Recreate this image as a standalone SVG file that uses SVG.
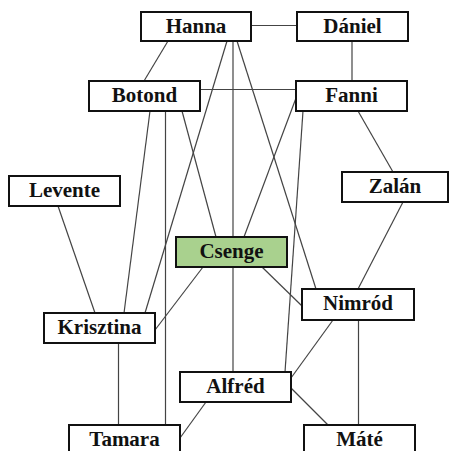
<svg xmlns="http://www.w3.org/2000/svg" width="449" height="451" viewBox="0 0 449 451">
<style>
.e{stroke:#444;stroke-width:1.2;fill:none}
.n rect{fill:#fff;stroke:#111;stroke-width:2}
.n.h rect{fill:#a9d18e}
text{font-family:"Liberation Serif","Times New Roman","DejaVu Serif",serif;font-weight:700;font-size:21px;fill:#111;text-anchor:middle}
</style>
<rect width="449" height="451" fill="#fff"/>
<g id="connectors">
<line class="e" x1="251" y1="25.5" x2="297" y2="25.5"/>
<line class="e" x1="168" y1="41" x2="144" y2="81"/>
<line class="e" x1="227" y1="41" x2="145" y2="313"/>
<line class="e" x1="233" y1="41" x2="233" y2="372"/>
<line class="e" x1="237" y1="41" x2="316" y2="289"/>
<line class="e" x1="352" y1="41" x2="352" y2="81"/>
<line class="e" x1="200" y1="89.5" x2="296" y2="89.5"/>
<line class="e" x1="150" y1="111" x2="124" y2="313"/>
<line class="e" x1="165.5" y1="111" x2="165.5" y2="425"/>
<line class="e" x1="182" y1="111" x2="216" y2="237"/>
<line class="e" x1="296" y1="98" x2="244" y2="237"/>
<line class="e" x1="303" y1="111" x2="285" y2="372"/>
<line class="e" x1="358" y1="111" x2="393" y2="172"/>
<line class="e" x1="58" y1="206" x2="95" y2="313"/>
<line class="e" x1="403" y1="202" x2="358" y2="289"/>
<line class="e" x1="203" y1="267" x2="155" y2="330"/>
<line class="e" x1="262" y1="267" x2="302" y2="306"/>
<line class="e" x1="333" y1="320" x2="291" y2="378"/>
<line class="e" x1="358.5" y1="320" x2="358.5" y2="425"/>
<line class="e" x1="291" y1="388" x2="328" y2="425"/>
<line class="e" x1="206" y1="402" x2="180" y2="438"/>
<line class="e" x1="118.5" y1="343" x2="118.5" y2="425"/>
</g>
<g id="hanna" class="n"><rect x="141" y="12" width="110" height="29"/><text x="196" y="33">Hanna</text></g>
<g id="daniel" class="n"><rect x="297" y="12" width="111" height="29"/><text x="352.5" y="33">Dániel</text></g>
<g id="botond" class="n"><rect x="89" y="81" width="111" height="30"/><text x="144.5" y="102">Botond</text></g>
<g id="fanni" class="n"><rect x="296" y="81" width="111" height="30"/><text x="351.5" y="102">Fanni</text></g>
<g id="levente" class="n"><rect x="9" y="176" width="111" height="30"/><text x="64.5" y="197">Levente</text></g>
<g id="zalan" class="n"><rect x="342" y="172" width="106" height="30"/><text x="395" y="193">Zalán</text></g>
<g id="csenge" class="n h"><rect x="176" y="237" width="111" height="30"/><text x="231.5" y="258">Csenge</text></g>
<g id="nimrod" class="n"><rect x="302" y="289" width="112" height="31"/><text x="358" y="310">Nimród</text></g>
<g id="krisztina" class="n"><rect x="44" y="313" width="111" height="30"/><text x="99.5" y="334">Krisztina</text></g>
<g id="alfred" class="n"><rect x="180" y="372" width="111" height="30"/><text x="235.5" y="393">Alfréd</text></g>
<g id="tamara" class="n"><rect x="69" y="425" width="111" height="30"/><text x="124.5" y="446">Tamara</text></g>
<g id="mate" class="n"><rect x="304" y="425" width="111" height="30"/><text x="359.5" y="446">Máté</text></g>
</svg>
